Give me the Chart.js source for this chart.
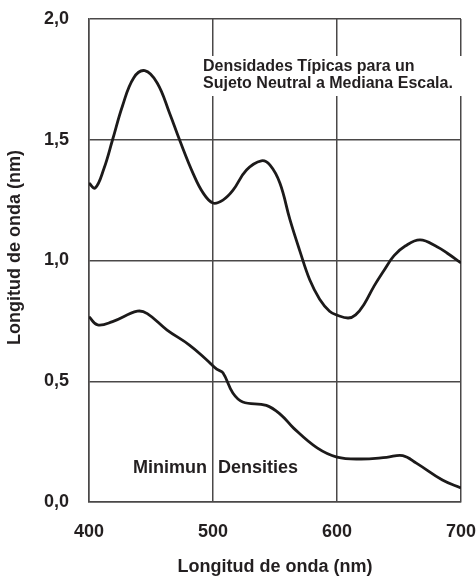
<!DOCTYPE html>
<html>
<head>
<meta charset="utf-8">
<script src="https://cdn.jsdelivr.net/npm/chart.js@4"></script>
<style>
html,body{margin:0;padding:0;background:#fff;}
#wrap{width:476px;height:576px;}
</style>
</head>
<body>
<div id="wrap"><canvas id="grph" width="476" height="576"></canvas></div>
<script>
// upper curve (typical densities)
const upperNm  = [400,405,412,419,427,436,445,455,465,473,484,492,500,508,516,527,539,546,554,562,570,578,586,594,600,609,615,622,630,638,646,655,667,681,689,700];
const upperVal = [1.32,1.30,1.38,1.50,1.64,1.756,1.786,1.735,1.61,1.50,1.36,1.28,1.238,1.25,1.29,1.375,1.413,1.395,1.32,1.17,1.04,0.92,0.84,0.79,0.774,0.762,0.775,0.82,0.895,0.96,1.02,1.06,1.085,1.056,1.03,0.99];

// lower curve (minimum densities)
const lowerNm  = [400,407,419,439,447,463,481,495,503,508,516,524,543,555,565,584,600,619,640,653,664,685,700];
const lowerVal = [0.767,0.733,0.747,0.79,0.78,0.712,0.65,0.588,0.55,0.535,0.451,0.414,0.40,0.36,0.306,0.224,0.186,0.178,0.185,0.192,0.161,0.091,0.058];

const xTicks = [400,500,600,700];
const yTicks = [0,0.5,1,1.5,2];

const LINE = "#1c1a1a";
const GRID = "#4a4848";
const TXT = "#231f20";
const FONT = "'Liberation Sans', Arial, sans-serif";

function pts(xs, ys){
    return xs.map((x,i) => ({x:x, y:ys[i]}));
}

//texts that are not axis labels
const notes = {
    id: "notes",
    afterDraw(chart){
        const c = chart.ctx;
        c.save();
        c.fillStyle = "#fff";
        c.fillRect(201, 56, 264, 40);
        c.fillStyle = TXT;
        c.font = "bold 16px " + FONT;
        c.textAlign = "left";
        c.textBaseline = "alphabetic";
        c.fillText("Densidades Típicas para un", 203, 71);
        c.fillText("Sujeto Neutral a Mediana Escala.", 203, 88);

        c.font = "bold 18px " + FONT;
        c.fillText("Minimun", 133, 473);
        c.fillText("Densities", 218, 473);

        c.translate(15, 247.5);
        c.rotate(-Math.PI/2);
        c.textAlign = "center";
        c.textBaseline = "middle";
        c.fillText("Longitud de onda (nm)", 0, 0);
        c.restore();
    }
};

new Chart(document.getElementById("grph"), {
    type: "line",
    data: {
        datasets: [{
            data: pts(upperNm, upperVal),
            borderColor: LINE,
            borderWidth: 2.8,
            pointRadius: 0,
            fill: false,
            tension: 0.4
        },{
            data: pts(lowerNm, lowerVal),
            borderColor: LINE,
            borderWidth: 2.8,
            pointRadius: 0,
            fill: false,
            tension: 0.4
        }]
    },
    options: {
        responsive: false,
        animation: false,
        layout: {padding: {top: 19, right: 15, bottom: 0, left: 0}},
        plugins: {legend: {display: false}, tooltip: {enabled: false}},
        scales: {
            x: {
                type: "linear",
                min: 400, max: 700,
                afterBuildTicks: s => { s.ticks = xTicks.map(v => ({value: v})); },
                afterFit: s => { s.height = 74; s.paddingLeft = 0; s.paddingRight = 0; },
                grid: {color: GRID, lineWidth: 1.5, drawTicks: false},
                border: {color: GRID, width: 1.5},
                ticks: {
                    padding: 19,
                    color: TXT,
                    font: {family: FONT, size: 18, weight: "bold"},
                    maxRotation: 0
                },
                title: {
                    display: true,
                    text: "Longitud de onda (nm)",
                    color: TXT,
                    font: {family: FONT, size: 18, weight: "bold", lineHeight: 1},
                    padding: 0
                }
            },
            y: {
                min: 0, max: 2,
                afterBuildTicks: s => { s.ticks = yTicks.map(v => ({value: v})); },
                afterFit: s => { s.width = 89; s.paddingTop = 0; s.paddingBottom = 0; },
                grid: {color: GRID, lineWidth: 1.5, drawTicks: false},
                border: {color: GRID, width: 1.5},
                ticks: {
                    padding: 20,
                    color: TXT,
                    font: {family: FONT, size: 18, weight: "bold"},
                    callback: v => v.toFixed(1).replace(".", ",")
                }
            }
        }
    },
    plugins: [notes]
});
</script>
</body>
</html>
